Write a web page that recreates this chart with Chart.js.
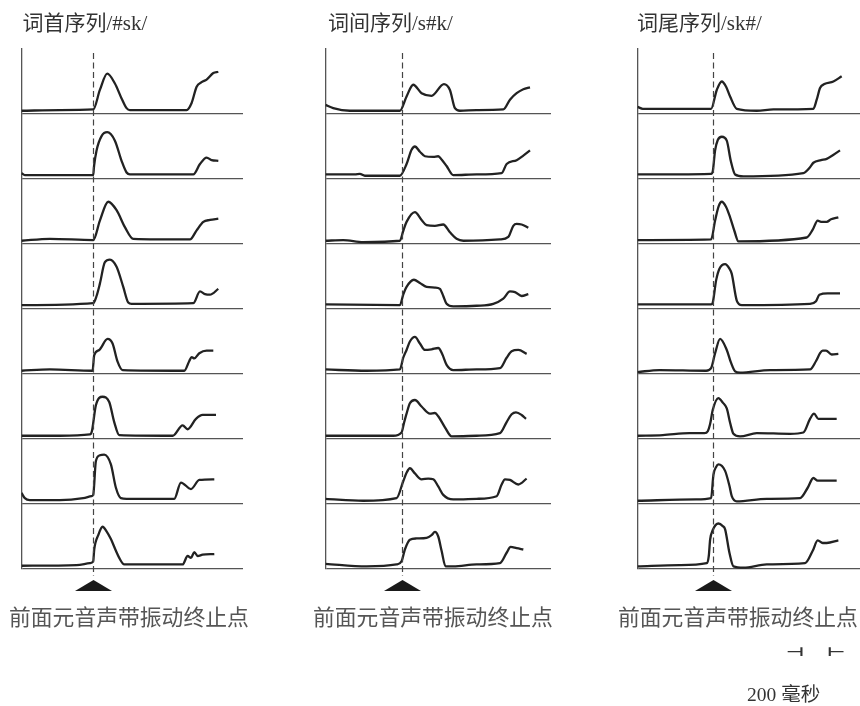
<!DOCTYPE html>
<html><head><meta charset="utf-8">
<script src="https://cdn.jsdelivr.net/npm/chart.js@4"></script>
<style>
html,body{margin:0;padding:0;background:#fff;}
#wrap{position:relative;width:860px;height:706px;overflow:hidden;background:#fff;}
canvas{position:absolute;top:0;}
.t{position:absolute;white-space:nowrap;color:#333;font-family:"Liberation Serif","Noto Sans CJK SC",serif;font-size:21px;line-height:21px;}
.b{position:absolute;white-space:nowrap;color:#555;font-family:"Noto Sans CJK SC",sans-serif;font-size:21.8px;line-height:22px;}
.s{position:absolute;white-space:nowrap;color:#333;font-family:"DejaVu Sans",sans-serif;font-weight:bold;font-size:21px;line-height:21px;transform:scale(0.95,0.6);transform-origin:0 50%;}
</style></head><body><div id="wrap"></div>
<script>
// ---- text ----
const columnTitles = ['词首序列/#sk/', '词间序列/s#k/', '词尾序列/sk#/'];
const markerLabel = '前面元音声带振动终止点';
const scaleLabel = '200 毫秒';
const scaleTicks = ['⊣', '⊢'];

// ---- data: [time (ms, 0 = end of preceding vowel voicing), amplitude] ----
const wordInitial = [
  [[-430,5],[-200,6],[0,7],[40,37],[84,62],[130,47],[170,24],[200,9],[220,6],[560,6],[590,17],[620,42],[650,49],[680,53],[720,63],[750,65]],
  [[-430,9],[-410,6],[0,6],[5,20],[20,44],[50,66],[84,72],[130,59],[170,28],[200,10],[220,7],[600,7],[640,23],[680,33],[710,29],[750,28]],
  [[-430,5],[-260,8],[0,6],[40,36],[90,65],[140,52],[190,26],[240,8],[580,7],[620,21],[660,34],[700,37],[750,39]],
  [[-430,6],[0,9],[20,20],[40,39],[70,72],[100,76],[140,65],[180,34],[210,10],[230,8],[600,9],[640,27],[670,23],[700,22],[750,31]],
  [[-430,5],[-260,7],[-4,5],[6,29],[36,37],[86,54],[116,47],[146,19],[176,6],[546,5],[576,20],[590,26],[606,24],[636,32],[680,36],[720,36]],
  [[-430,5],[-200,5],[-20,7],[-8,12],[16,52],[56,65],[96,57],[126,26],[156,6],[476,5],[536,21],[566,15],[616,31],[656,37],[736,37]],
  [[-430,17],[-410,9],[-380,6],[-200,6],[-60,9],[-10,12],[0,14],[16,66],[40,75],[66,76],[106,61],[136,25],[166,9],[200,8],[486,8],[526,33],[586,23],[636,37],[726,38]],
  [[-430,5],[-100,6],[-20,9],[0,12],[6,30],[30,52],[56,65],[80,58],[106,46],[136,28],[156,17],[186,7],[536,7],[566,20],[586,17],[606,26],[626,20],[656,22],[726,23]]
];
const wordMedial = [
  [[-456,14],[-410,9],[-310,5],[-10,5],[30,27],[70,45],[120,32],[180,28],[254,46],[290,37],[320,9],[350,5],[450,6],[610,7],[650,22],[690,32],[730,38],[770,41]],
  [[-456,7],[-280,7],[-250,8],[-220,5],[-10,5],[30,23],[60,45],[80,50],[110,42],[140,35],[190,34],[220,35],[240,30],[270,20],[310,6],[450,7],[600,9],[630,23],[690,29],[730,36],[770,44]],
  [[-456,5],[-350,6],[-230,3],[-10,5],[10,20],[30,34],[80,49],[120,37],[150,29],[200,28],[250,30],[290,18],[330,8],[370,5],[590,7],[640,11],[670,28],[690,31],[720,30],[760,25]],
  [[-456,7],[-10,6],[10,22],[30,34],[74,45],[110,40],[150,34],[200,33],[230,31],[250,20],[270,8],[310,4],[450,5],[550,8],[610,16],[650,27],[680,26],[720,20],[760,23]],
  [[-456,7],[-210,5],[-10,7],[10,25],[30,37],[50,50],[80,57],[110,47],[140,37],[180,38],[220,40],[245,30],[270,14],[310,6],[450,7],[590,9],[630,25],[660,35],[700,37],[750,31]],
  [[-456,5],[-50,5],[0,10],[15,25],[30,39],[50,55],[80,60],[120,50],[170,39],[200,40],[220,35],[260,18],[300,4],[450,5],[590,9],[630,26],[660,38],[686,41],[720,37],[746,31]],
  [[-456,8],[-230,5],[-30,9],[10,35],[30,48],[50,55],[80,47],[120,38],[160,39],[190,38],[220,27],[250,14],[310,7],[450,8],[570,12],[600,30],[620,38],[650,37],[700,30],[750,39]],
  [[-456,8],[-210,4],[-30,7],[0,12],[20,30],[50,45],[90,47],[150,48],[180,52],[200,57],[220,50],[240,28],[264,4],[310,4],[450,7],[590,9],[630,25],[654,34],[690,32],[730,30]]
];
const wordFinal = [
  [[-452,11],[-420,8],[-10,8],[24,37],[54,50],[80,42],[104,27],[144,8],[264,5],[364,7],[604,8],[624,22],[644,40],[670,46],[724,50],[774,58]],
  [[-452,7],[-10,8],[0,12],[14,44],[30,60],[54,65],[84,59],[108,28],[134,7],[184,4],[544,9],[584,18],[604,25],[650,29],[684,31],[764,44]],
  [[-452,6],[-10,7],[14,36],[35,58],[54,65],[80,57],[104,41],[130,20],[154,4],[564,10],[600,22],[630,36],[650,34],[684,34],[710,38],[754,41]],
  [[-452,7],[-10,7],[0,10],[20,44],[40,62],[74,69],[100,62],[114,54],[144,13],[174,6],[584,8],[620,12],[640,22],[690,24],[764,24]],
  [[-452,3],[-320,6],[-40,5],[-10,9],[14,32],[44,54],[84,37],[110,17],[134,4],[164,2],[344,6],[584,7],[620,20],[644,32],[660,36],[680,36],[714,30],[754,31]],
  [[-452,5],[-300,6],[-140,9],[-50,9],[-30,12],[-16,23],[0,45],[34,63],[60,56],[84,47],[104,25],[124,8],[164,4],[264,9],[464,8],[544,10],[584,31],[608,39],[634,31],[744,31]],
  [[-452,5],[-100,7],[-10,9],[4,45],[20,57],[34,61],[74,51],[100,28],[114,12],[144,4],[324,8],[524,9],[570,25],[604,40],[630,36],[744,36]],
  [[-452,4],[-200,6],[-36,9],[-24,20],[-16,45],[0,60],[34,70],[60,66],[74,61],[100,25],[124,4],[184,2],[324,7],[554,9],[600,28],[630,44],[660,40],[684,40],[754,44]]
];
const columns = [wordInitial, wordMedial, wordFinal];

// ---- layout ----
const wrap = document.getElementById('wrap');
const colCfg = [
  {canvasLeft: 0,   canvasWidth: 300, padLeft: 21.5, padRight: 57,  xmin: -430, xmax: 898, titleLeft: 22.5, labelLeft: 9},
  {canvasLeft: 300, canvasWidth: 300, padLeft: 25.5, padRight: 49,  xmin: -456, xmax: 896, titleLeft: 328,  labelLeft: 313},
  {canvasLeft: 600, canvasWidth: 260, padLeft: 37.5, padRight: 0,   xmin: -452, xmax: 884, titleLeft: 637,  labelLeft: 618}
];
const TOP = 49, BOTTOM = 569, H = 706;

const markerPlugin = {
  id: 'marker',
  afterDraw(chart) {
    const ctx = chart.ctx, ca = chart.chartArea;
    const x = Math.round(chart.scales.x.getPixelForValue(0)) + 0.5;
    ctx.save();
    ctx.strokeStyle = '#444';
    ctx.lineWidth = 1.2;
    ctx.setLineDash([6, 3.5]);
    ctx.beginPath();
    ctx.moveTo(x, ca.top + 4);
    ctx.lineTo(x, ca.bottom + 7);
    ctx.stroke();
    ctx.setLineDash([]);
    ctx.fillStyle = '#1a1a1a';
    ctx.beginPath();
    ctx.moveTo(x, ca.bottom + 11);
    ctx.lineTo(x - 18.5, ca.bottom + 22);
    ctx.lineTo(x + 18.5, ca.bottom + 22);
    ctx.closePath();
    ctx.fill();
    ctx.restore();
  }
};

columns.forEach((series, ci) => {
  const c = colCfg[ci];
  const cv = document.createElement('canvas');
  cv.style.left = c.canvasLeft + 'px';
  cv.style.width = c.canvasWidth + 'px';
  cv.style.height = H + 'px';
  cv.width = c.canvasWidth; cv.height = H;
  wrap.appendChild(cv);

  const scales = {
    x: {type: 'linear', min: c.xmin, max: c.xmax, display: false}
  };
  series.forEach((s, ri) => {
    scales['y' + ri] = {
      type: 'linear', position: 'left', stack: 'rows', stackWeight: 1, weight: 8 - ri,
      min: 0, max: 100,
      ticks: {display: false, stepSize: 100},
      grid: {display: true, drawTicks: false, lineWidth: 1.3,
        color: (ctx) => (ctx.tick && ctx.tick.value === 0) ? '#555' : 'rgba(0,0,0,0)'},
      border: {display: true, color: '#555', width: 1.3}
    };
  });

  new Chart(cv, {
    type: 'line',
    data: {
      datasets: series.map((s, ri) => ({
        data: s.map(p => ({x: p[0], y: p[1]})),
        yAxisID: 'y' + ri,
        borderColor: '#222',
        borderWidth: 2.3,
        pointRadius: 0,
        cubicInterpolationMode: 'monotone',
        fill: false
      }))
    },
    options: {
      responsive: false, animation: false, devicePixelRatio: 1,
      layout: {autoPadding: false, padding: {left: c.padLeft, right: c.padRight, top: TOP, bottom: H - BOTTOM}},
      plugins: {legend: {display: false}, tooltip: {enabled: false}},
      scales
    },
    plugins: [markerPlugin]
  });

  const t = document.createElement('div');
  t.className = 't'; t.textContent = columnTitles[ci];
  t.style.left = c.titleLeft + 'px'; t.style.top = '13px';
  wrap.appendChild(t);

  const b = document.createElement('div');
  b.className = 'b'; b.textContent = markerLabel;
  b.style.left = c.labelLeft + 'px'; b.style.top = '605px';
  wrap.appendChild(b);
});

const sc = document.createElement('div');
sc.className = 'b'; sc.textContent = scaleLabel;
sc.style.fontFamily = '"Liberation Serif","Noto Sans CJK SC",serif';
sc.style.fontSize = '19.5px';
sc.style.color = '#333';
sc.style.left = '747px'; sc.style.top = '684px';
wrap.appendChild(sc);
scaleTicks.forEach((txt, i) => {
  const d = document.createElement('div');
  d.className = 's'; d.textContent = txt;
  d.style.left = (i === 0 ? 786 : 827) + 'px'; d.style.top = '642px';
  wrap.appendChild(d);
});
</script></body></html>
